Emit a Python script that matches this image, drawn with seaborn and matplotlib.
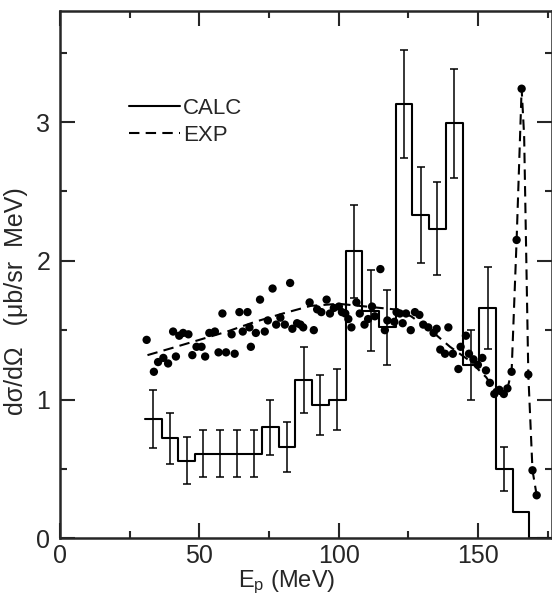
import numpy as np
import pandas as pd
import matplotlib
matplotlib.use("Agg")
import matplotlib.pyplot as plt
from matplotlib.lines import Line2D
import seaborn as sns

# ---------------- data ----------------
# CALC histogram (bin edges in MeV, heights, error half-widths)
calc_edges = [30.5, 36.5, 42.5, 48.5, 54.5, 60.5, 66.5, 72.5, 78.5, 84.5, 90.5, 96.5,
              102.5, 108.5, 114.5, 120.5, 126.5, 132.5, 138.5, 144.5, 150.5, 156.5,
              162.5, 168.5, 176.6]
calc_values = [0.86, 0.72, 0.56, 0.61, 0.61, 0.61, 0.61, 0.80, 0.66, 1.14, 0.96, 1.00,
               2.07, 1.64, 1.52, 3.13, 2.33, 2.23, 2.99, 1.25, 1.66, 0.50, 0.19, 0.0]
calc_errors = [0.21, 0.185, 0.17, 0.17, 0.17, 0.17, 0.17, 0.20, 0.18, 0.24, 0.215, 0.22,
               0.335, 0.29, 0.27, 0.39, 0.345, 0.335, 0.395, 0.25, 0.295, 0.16,
               np.nan, np.nan]

# EXP data points
exp_E = [31.1, 33.7, 35.2, 37.1, 38.8, 40.6, 41.6, 42.8, 44.2, 46.1, 47.5, 49.0, 50.8,
         52.1, 53.6, 55.6, 56.9, 58.3, 59.6, 61.6, 62.7, 64.4, 65.6, 67.3, 68.0, 68.5,
         70.3, 71.8, 73.5, 74.6, 76.3, 77.6, 79.1, 80.7, 82.6, 83.4, 85.1, 86.3, 87.3,
         89.6, 91.1, 92.3, 93.8, 95.7, 96.9, 98.3, 100.1, 101.2, 102.4, 103.5, 104.6,
         106.4, 107.6, 109.3, 110.6, 112.0, 113.0, 115.0, 116.6, 117.5, 120.0, 120.8,
         122.0, 123.0, 124.2, 125.9, 127.4, 129.0, 130.4, 132.2, 134.1, 135.2, 136.5,
         138.2, 139.4, 141.0, 143.0, 143.8, 145.7, 146.8, 148.4, 150.0, 151.6, 152.9,
         154.3, 155.9, 157.7, 159.3, 160.6, 162.1, 163.9, 165.7, 168.1, 169.6, 171.1]
exp_v = [1.43, 1.20, 1.27, 1.30, 1.26, 1.49, 1.31, 1.46, 1.48, 1.47, 1.32, 1.38, 1.38,
         1.31, 1.48, 1.49, 1.34, 1.62, 1.34, 1.47, 1.33, 1.63, 1.49, 1.63, 1.52, 1.38,
         1.48, 1.72, 1.49, 1.57, 1.80, 1.54, 1.59, 1.54, 1.84, 1.51, 1.55, 1.54, 1.52,
         1.70, 1.50, 1.65, 1.63, 1.72, 1.62, 1.66, 1.67, 1.63, 1.62, 1.58, 1.52,
         1.70, 1.62, 1.54, 1.58, 1.67, 1.60, 1.94, 1.50, 1.57, 1.56, 1.63,
         1.62, 1.55, 1.62, 1.50, 1.63, 1.61, 1.54, 1.52, 1.48, 1.51, 1.36,
         1.33, 1.52, 1.33, 1.22, 1.38, 1.46, 1.33, 1.29, 1.25, 1.30, 1.21,
         1.12, 1.04, 1.07, 1.04, 1.08, 1.20, 2.15, 3.24, 1.18, 0.49, 0.31]

# EXP dashed curve
curve_E = [31.4, 40.0, 50.0, 60.0, 70.0, 80.0, 90.0, 100.0, 110.0, 120.0, 126.0, 133.0,
           140.0, 147.0, 153.0, 156.0, 157.7, 159.3, 160.6, 162.1, 163.9, 165.7, 166.6,
           168.1, 169.6, 171.1]
curve_v = [1.32, 1.37, 1.43, 1.49, 1.56, 1.62, 1.675, 1.69, 1.67, 1.65, 1.60, 1.50,
           1.38, 1.28, 1.16, 1.07, 1.04, 1.04, 1.08, 1.20, 2.15, 3.24, 2.90,
           1.18, 0.49, 0.31]

x_major = [0, 50, 100, 150]
x_minor = [25, 75, 125, 175]
y_major = [0, 1, 2, 3]
y_minor = [0.5, 1.5, 2.5, 3.5]

# ---------------- plot ----------------
sns.set_style("ticks")
plt.rcParams['font.family'] = ['Liberation Sans', 'DejaVu Sans']
plt.rcParams['mathtext.default'] = 'regular'

W, H = 552, 595
fig = plt.figure(figsize=(W / 100, H / 100), dpi=100)
ax = fig.add_axes([60 / W, 56.7 / H, 492 / W, 527.3 / H])

edges = np.array(calc_edges)
centers = (edges[:-1] + edges[1:]) / 2
calc_df = pd.DataFrame({"E": centers, "v": calc_values, "err": calc_errors})

sns.histplot(data=calc_df, x="E", weights="v", bins=calc_edges, element="step",
             fill=False, color="black", linewidth=1.5, ax=ax)

eb = calc_df.dropna()
ax.errorbar(eb["E"], eb["v"], yerr=eb["err"], fmt="none", ecolor="black",
            elinewidth=1.1, capsize=2.6, capthick=1.1)

dash = (0, (5.0, 3.0))
sns.lineplot(x=curve_E, y=curve_v, sort=False, estimator=None, color="black",
             linewidth=1.5, linestyle=dash, ax=ax)
sns.scatterplot(x=exp_E, y=exp_v, color="black", s=36, edgecolor="none",
                ax=ax, zorder=4)

ax.set_xlim(0, 176.6)
ax.set_ylim(0, 3.8)
ax.set_xticks(x_major)
ax.set_xticks(x_minor, minor=True)
ax.set_yticks(y_major)
ax.set_yticks(y_minor, minor=True)
ax.set_xticklabels([str(t) for t in x_major])
ax.set_yticklabels([str(t) for t in y_major])
ax.tick_params(which="both", direction="in", top=True, right=True, width=1.5,
               labelsize=18)
ax.tick_params(which="major", length=11, pad=4)
ax.tick_params(axis="y", which="major", pad=7)
ax.tick_params(which="minor", length=5)
for sp in ax.spines.values():
    sp.set_linewidth(1.8)

ax.set_xlabel("E$_p$ (MeV)", fontsize=17)
ax.set_ylabel("dσ/dΩ   (μb/sr  MeV)", fontsize=18)
ax.xaxis.set_label_coords(0.46, -0.058)
ax.yaxis.set_label_coords(-0.065, 0.45)

handles = [Line2D([], [], color="black", linewidth=1.5),
           Line2D([], [], color="black", linewidth=1.5, linestyle=dash)]
ax.legend(handles, ["CALC", "EXP"], loc="upper left", bbox_to_anchor=(0.14, 0.835),
          frameon=False, fontsize=16, handlelength=2.3, handletextpad=0.15,
          labelspacing=0.25, borderaxespad=0, borderpad=0)

fig.savefig("out.png", dpi=100)
